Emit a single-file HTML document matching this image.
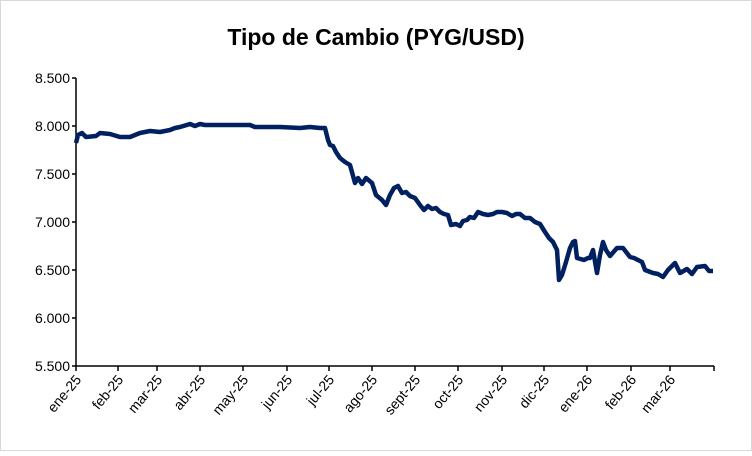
<!DOCTYPE html>
<html><head><meta charset="utf-8"><style>body{margin:0;background:#fff}</style></head><body>
<svg width="752" height="451" xmlns="http://www.w3.org/2000/svg" font-family="Liberation Sans, sans-serif">
<rect x="0.5" y="0.5" width="751" height="450" fill="#fff" stroke="#d9d9d9"/>
<text x="376" y="45" text-anchor="middle" font-size="23" font-weight="bold">Tipo de Cambio (PYG/USD)</text>
<g font-size="14" text-anchor="end" fill="#000">
<text x="70" y="83">8.500</text><text x="70" y="131">8.000</text><text x="70" y="179">7.500</text>
<text x="70" y="227">7.000</text><text x="70" y="275">6.500</text><text x="70" y="323">6.000</text><text x="70" y="371">5.500</text>
</g>
<g stroke="#000" stroke-width="1.5">
<line x1="76" y1="78" x2="76" y2="366"/><line x1="76" y1="366" x2="714" y2="366"/>
<line x1="72" y1="78" x2="76" y2="78"/><line x1="72" y1="126" x2="76" y2="126"/><line x1="72" y1="174" x2="76" y2="174"/><line x1="72" y1="222" x2="76" y2="222"/><line x1="72" y1="270" x2="76" y2="270"/><line x1="72" y1="318" x2="76" y2="318"/><line x1="72" y1="366" x2="76" y2="366"/>
<line x1="76" y1="366" x2="76" y2="371"/><line x1="118" y1="366" x2="118" y2="371"/><line x1="157" y1="366" x2="157" y2="371"/><line x1="200" y1="366" x2="200" y2="371"/><line x1="243" y1="366" x2="243" y2="371"/><line x1="287" y1="366" x2="287" y2="371"/><line x1="329" y1="366" x2="329" y2="371"/><line x1="372" y1="366" x2="372" y2="371"/><line x1="415" y1="366" x2="415" y2="371"/><line x1="458" y1="366" x2="458" y2="371"/><line x1="502" y1="366" x2="502" y2="371"/><line x1="544" y1="366" x2="544" y2="371"/><line x1="587" y1="366" x2="587" y2="371"/><line x1="631" y1="366" x2="631" y2="371"/><line x1="670" y1="366" x2="670" y2="371"/><line x1="714" y1="366" x2="714" y2="371"/>
</g>
<g font-size="14" text-anchor="end">
<text transform="translate(82,380) rotate(-50)">ene-25</text>
<text transform="translate(124,380) rotate(-50)">feb-25</text>
<text transform="translate(163,380) rotate(-50)">mar-25</text>
<text transform="translate(206,380) rotate(-50)">abr-25</text>
<text transform="translate(249,380) rotate(-50)">may-25</text>
<text transform="translate(293,380) rotate(-50)">jun-25</text>
<text transform="translate(335,380) rotate(-50)">jul-25</text>
<text transform="translate(378,380) rotate(-50)">ago-25</text>
<text transform="translate(421,380) rotate(-50)">sept-25</text>
<text transform="translate(464,380) rotate(-50)">oct-25</text>
<text transform="translate(508,380) rotate(-50)">nov-25</text>
<text transform="translate(550,380) rotate(-50)">dic-25</text>
<text transform="translate(593,380) rotate(-50)">ene-26</text>
<text transform="translate(637,380) rotate(-50)">feb-26</text>
<text transform="translate(676,380) rotate(-50)">mar-26</text>
</g>
<polyline fill="none" stroke="#002060" stroke-width="4.5" stroke-linejoin="round" points="76,143 78,135 82,133 86,137 96,136 100,133 110,134 120,137 130,137 140,133 150,131 160,132 170,130 175,128 180,127 190,124 195,126 200,124 205,125 220,125 250,125 255,127 280,127 300,128 310,127 320,128 325,128 328,140 330,145 333,146 336,152 340,158 345,162 350,165 355,183 358,178 362,184 366,178 372,183 376,195 382,200 386,205 390,195 394,188 398,186 402,193 406,192 410,196 415,198 420,205 424,210 428,206 432,209 436,208 440,212 444,214 448,215 451,225 456,224 460,226 463,221 467,220 470,217 474,218 478,212 483,214 488,215 493,214 497,212 502,212 507,213 512,216 516,214 520,214 525,218 530,218 535,222 540,224 545,232 549,238 553,242 557,250 559,280 562,275 566,262 570,248 573,242 575,241 577,258 584,260 588,258 590,258 593,250 597,273 600,255 603,242 606,250 610,256 617,248 623,248 630,257 634,258 638,260 642,262 645,270 653,273 658,274 663,277 668,270 675,263 680,273 687,269 692,274 697,267 705,266 709,271 713,271"/>
</svg>
</body></html>
